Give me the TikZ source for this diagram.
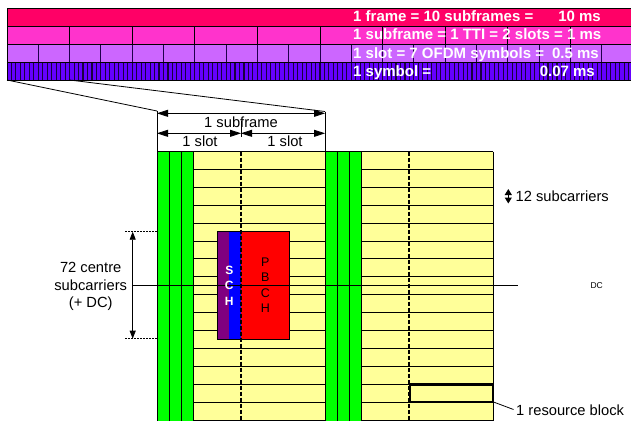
\documentclass[tikz,border=0pt]{standalone}
\usepackage{fontspec}
\setmainfont{Liberation Sans}
\usetikzlibrary{arrows.meta}
\definecolor{rowA}{RGB}{255,0,102}
\definecolor{rowB}{RGB}{255,51,204}
\definecolor{rowC}{RGB}{204,102,255}
\definecolor{rowD}{RGB}{102,0,255}
\definecolor{rbyellow}{RGB}{255,255,153}
\definecolor{ctrlgreen}{RGB}{0,255,0}
\definecolor{schpurple}{RGB}{128,0,128}
\begin{document}
\begin{tikzpicture}[x=1pt,y=-1pt,
  bartext/.style={text=white,font=\fontsize{15}{18}\selectfont\bfseries,inner sep=0pt},
  lbl/.style={font=\fontsize{14.7}{18}\selectfont,inner sep=0pt},
  barline/.style={line width=0.9pt,black},
  slotline/.style={line width=0.9pt,black!70!rowD},
  symline/.style={line width=1.1pt,black!75!rowD},
  thinline/.style={line width=0.8pt,black},
  gridline/.style={line width=0.9pt,black},
  slotdash/.style={line width=1.1pt,black,dash pattern=on 4pt off 2pt},
  dimarrow/.style={line width=0.8pt,{Triangle[length=11pt,width=7pt]}-{Triangle[length=11pt,width=7pt]}},
  vdimarrow/.style={line width=0.8pt,{Triangle[length=8pt,width=6pt]}-{Triangle[length=8pt,width=6pt]}},
  smallarrow/.style={line width=1pt,{Triangle[length=6pt,width=7pt]}-{Triangle[length=6pt,width=7pt]}},
  dotline/.style={line width=0.9pt,dash pattern=on 2pt off 1pt}
]
\useasboundingbox (0,0) rectangle (631,420);
\clip (0,0) rectangle (631,420);

% ---------- top time bar ----------
\fill[rowA] (7,8.4) rectangle (640,26.3);
\fill[rowB] (7,26.3) rectangle (640,44.2);
\fill[rowC] (7,44.2) rectangle (640,62.1);
\fill[rowD] (7,62.1) rectangle (640,80);
\foreach \i in {1,...,139} \draw[symline] (7+4.4714*\i,62.1) -- (7+4.4714*\i,80);
\foreach \i in {1,...,19} \draw[slotline] (7+31.3*\i,44.2) -- (7+31.3*\i,62.1);
\foreach \i in {1,...,9} \draw[barline] (7+62.6*\i,26.3) -- (7+62.6*\i,44.2);
\foreach \y in {8.4,26.3,44.2,62.1,80} \draw[barline] (7,\y) -- (640,\y);
\draw[barline] (7,8.4) -- (7,80);

\node[bartext,anchor=base west] (tFrame) at (353,22) {1 frame = 10 subframes =};
\node[bartext,anchor=base east] (tFrameMs) at (601,22) {10 ms};
\node[bartext,anchor=base west] (tSub) at (353,40) {1 subframe = 1 TTI = 2 slots = 1 ms};
\node[bartext,anchor=base west] (tSlot) at (353,58.3) {1 slot = 7 OFDM symbols =};
\node[bartext,anchor=base east] (tSlotMs) at (599,58.3) {0.5 ms};
\node[bartext,anchor=base west] (tSym) at (353,76) {1 symbol =};
\node[bartext,anchor=base east] (tSymMs) at (595,76) {0.07 ms};

% ---------- zoom lines ----------
\coordinate (barA) at (7,80);
\coordinate (barB) at (69.6,80);
\coordinate (sfL) at (157,111);
\coordinate (sfR) at (325,111.5);
\coordinate (gridTL) at (157,151.5);
\coordinate (gridTM) at (325,151.5);
\draw[thinline] (barA) -- (sfL);
\draw[thinline] (barB) -- (sfR);
\draw[thinline] (sfL) -- (gridTL);
\draw[thinline] (sfR) -- (gridTM);

% ---------- resource grid ----------
\fill[ctrlgreen] (157,151.5) rectangle (193,425);
\fill[rbyellow] (193,151.5) rectangle (325,425);
\fill[ctrlgreen] (325,151.5) rectangle (361,425);
\fill[rbyellow] (361,151.5) rectangle (493,425);
\foreach \k in {1,...,15} {
  \draw[gridline] (193,151.5+17.9*\k) -- (325,151.5+17.9*\k);
  \draw[gridline] (361,151.5+17.9*\k) -- (493,151.5+17.9*\k);
}
\foreach \x in {157,169,181,193,325,337,349,361,493} \draw[gridline] (\x,151.5) -- (\x,425);
\draw[gridline] (157,151.5) -- (493,151.5);

% SCH / PBCH block
\fill[schpurple] (217.3,231.7) rectangle (229.3,339);
\fill[blue] (229.3,231.7) rectangle (241,339);
\fill[red] (241,231.7) rectangle (289.3,339);
\draw[thinline] (217.3,231.7) rectangle (289.3,339);

% slot boundaries
\draw[slotdash] (241,151.5) -- (241,425);
\draw[slotdash] (409,151.5) -- (409,425);

% DC line
\coordinate (dcL) at (132.7,285.5);
\coordinate (dcR) at (518,285.5);
\draw[line width=0.6pt] (dcL) -- (dcR);

\node[font=\fontsize{12}{14}\selectfont\bfseries,text=white,inner sep=0pt,anchor=base] (sS) at (229.3,274.3) {S};
\node[font=\fontsize{12}{14}\selectfont\bfseries,text=white,inner sep=0pt,anchor=base] (sC) at (229.3,289.5) {C};
\node[font=\fontsize{12}{14}\selectfont\bfseries,text=white,inner sep=0pt,anchor=base] (sH) at (229.3,305) {H};
\node[font=\fontsize{12.5}{14}\selectfont,inner sep=0pt,anchor=base] (pP) at (265.3,266.7) {P};
\node[font=\fontsize{12.5}{14}\selectfont,inner sep=0pt,anchor=base] (pB) at (265.3,281.9) {B};
\node[font=\fontsize{12.5}{14}\selectfont,inner sep=0pt,anchor=base] (pC) at (265.3,297.1) {C};
\node[font=\fontsize{12.5}{14}\selectfont,inner sep=0pt,anchor=base] (pH) at (265.3,312.3) {H};

% resource block
\draw[line width=2.2pt] (410.2,384.4) rectangle (493,401.9);
\coordinate (rbCorner) at (493.5,402);
\coordinate (rbLead) at (513.5,409.5);
\draw[thinline] (rbCorner) -- (rbLead);
\node[lbl,anchor=base west] (tRB) at (516,415) {1 resource block};

% ---------- dimensions ----------
\coordinate (dSfL) at (157,113.3);
\coordinate (dSfR) at (325,113.3);
\draw[dimarrow] (dSfL) -- (dSfR);
\coordinate (dSlL) at (157,133.3);
\coordinate (dSlM) at (241,133.3);
\coordinate (dSlR) at (325,133.3);
\draw[dimarrow] (dSlL) -- (dSlM);
\draw[dimarrow] (dSlM) -- (dSlR);
\coordinate (tickT) at (241,121);
\coordinate (tickB) at (241,136.7);
\draw[thinline] (tickT) -- (tickB);
\node[lbl,anchor=base] (tSubframe) at (241,127.8) {1 subframe};
\node[lbl,anchor=base] (tSlotA) at (200,146.7) {1 slot};
\node[lbl,anchor=base] (tSlotB) at (285,146.7) {1 slot};

% 72 centre subcarriers
\coordinate (cTopL) at (125,231.7);
\coordinate (cTopR) at (157,231.7);
\coordinate (cBotL) at (125,338.7);
\coordinate (cBotR) at (157,338.7);
\draw[dotline] (cTopL) -- (cTopR);
\draw[dotline] (cBotL) -- (cBotR);
\coordinate (cArrT) at (132.7,231.7);
\coordinate (cArrB) at (132.7,338.7);
\draw[vdimarrow] (cArrT) -- (cArrB);
\node[lbl,anchor=base] (t72a) at (90.7,272.3) {72 centre};
\node[lbl,anchor=base] (t72b) at (90.7,290) {subcarriers};
\node[lbl,anchor=base] (t72c) at (90.7,307.5) {(+ DC)};

% 12 subcarriers
\coordinate (scT) at (508.3,189);
\coordinate (scB) at (508.3,203.5);
\draw[smallarrow] (scT) -- (scB);
\node[lbl,anchor=base west] (t12) at (515.5,201) {12 subcarriers};

% DC label
\node[font=\fontsize{8.5}{10}\selectfont,inner sep=0pt,anchor=base] (tDC) at (596.7,288.6) {DC};
\end{tikzpicture}
\end{document}
